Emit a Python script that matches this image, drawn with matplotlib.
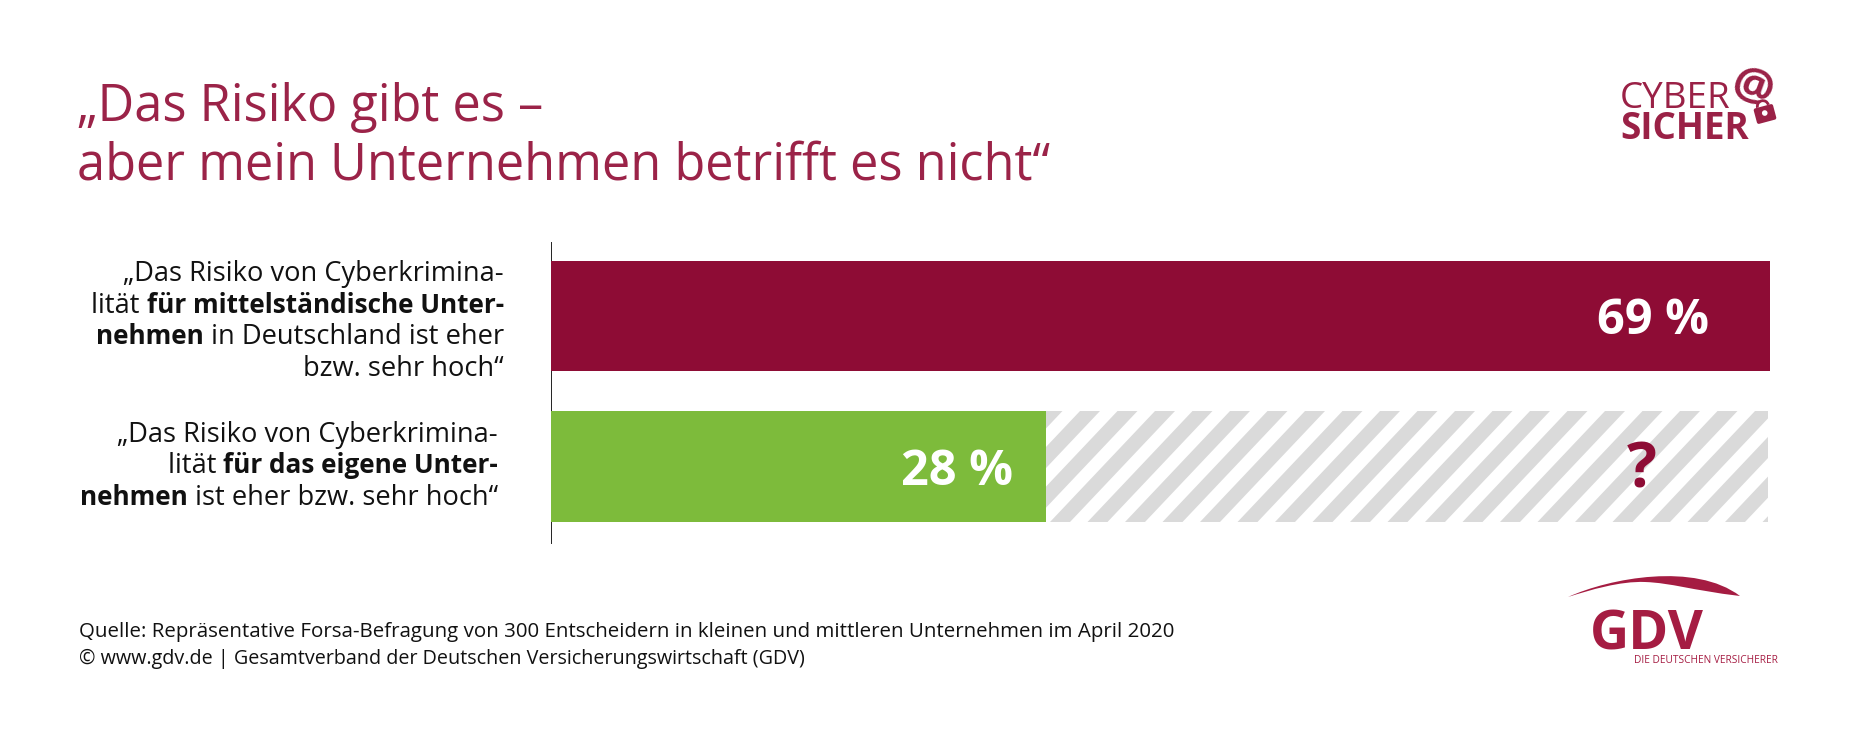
import matplotlib
matplotlib.use("Agg")
import matplotlib.pyplot as plt
from matplotlib.path import Path
from matplotlib.patches import PathPatch, FancyBboxPatch, Wedge
from matplotlib.transforms import Affine2D

W, H, DPI = 1850, 742, 100
FONT = "Open Sans"
plt.rcParams["font.family"] = [FONT, "DejaVu Sans"]

title_lines = ["„Das Risiko gibt es –", "aber mein Unternehmen betrifft es nicht“"]
categories = ["mittelstaendisch", "eigenes Unternehmen"]
known_values = [69, 28]
unknown_values = [0, 41]
value_labels = ["69 %", "28 %"]
unknown_label = "?"
label_lines = [
    [[("„Das Risiko von Cyberkrimina-", False)],
     [("lität ", False), ("für mittelständische Unter-", True)],
     [("nehmen", True), (" in Deutschland ist eher", False)],
     [("bzw. sehr hoch“", False)]],
    [[("„Das Risiko von Cyberkrimina-", False)],
     [("lität ", False), ("für das eigene Unter-", True)],
     [("nehmen", True), (" ist eher bzw. sehr hoch“", False)]],
]
source_lines = [
    "Quelle: Repräsentative Forsa-Befragung von 300 Entscheidern in kleinen und mittleren Unternehmen im April 2020",
    "© www.gdv.de | Gesamtverband der Deutschen Versicherungswirtschaft (GDV)",
]

RED = "#8E0C35"
TITLE_RED = "#9B2348"
LOGO_RED = "#9A2146"
GDV_RED = "#A51C42"
GREEN = "#7DBB3B"
GREY = "#DADADA"
INK = "#111111"

fig = plt.figure(figsize=(W / DPI, H / DPI), dpi=DPI, facecolor="white")
PX = Affine2D().scale(1, -1).translate(0, H)  # reference pixel coordinates


def txt(x, y, s, size, color=INK, weight="normal", ha="left", **kw):
    return fig.text(x, y, s, transform=PX, fontsize=size, color=color,
                    fontweight=weight, ha=ha, va="baseline", **kw)


# ---------- main chart ----------
ax = fig.add_axes([551 / W, 1 - 543 / H, 1219 / W, 301 / H])
ax.set_xlim(0, 69)
ax.set_ylim(1.508, -0.49)
ypos = list(range(len(categories)))
ax.barh(ypos, known_values, height=0.734, color=[RED, GREEN], zorder=3)
ghost = ax.barh(ypos[1], unknown_values[1] - 0.12, left=known_values[1], height=0.734,
                color="none", zorder=2)[0]
for s in ("top", "right", "bottom"):
    ax.spines[s].set_visible(False)
ax.spines["left"].set_color("#222222")
ax.spines["left"].set_linewidth(0.7)
ax.set_xticks([])
ax.set_yticks([])
ax.patch.set_alpha(0)

# diagonal stripes clipped to the unknown share
period, stripe_w, lean = 37.5, 20, 105
for k in range(-4, 21):
    x0 = 1050 + k * period
    p = PathPatch(Path([(x0, 522), (x0 + stripe_w, 522),
                        (x0 + stripe_w + lean, 411), (x0 + lean, 411), (x0, 522)]),
                  transform=PX, facecolor=GREY, edgecolor="none", zorder=2)
    ax.add_patch(p)
    p.set_clip_path(ghost)

# value labels
txt(1709, 334, value_labels[0], 35, "white", "bold", ha="right")
txt(1013, 485, value_labels[1], 35, "white", "bold", ha="right")
txt(1642, 488, unknown_label, 45, RED, "bold", ha="center")

# ---------- texts ----------
txt(77, 121, title_lines[0], 36.4, TITLE_RED)
txt(77, 180, title_lines[1], 36.4, TITLE_RED)
txt(79, 637, source_lines[0], 14.72, "#111111")
txt(79, 664, source_lines[1], 14.2, "#111111")

renderer = fig.canvas.get_renderer()
SIZE_REG, SIZE_BOLD = 19.6, 18.8


def right_runs(runs, xr, y):
    x = xr
    for s, bold in reversed(runs):
        size = SIZE_BOLD if bold else SIZE_REG
        weight = "bold" if bold else "normal"
        txt(x, y, s, size, INK, weight, ha="right")
        probe = fig.text(0, 0, s + "|", fontsize=size, fontweight=weight)
        bar = fig.text(0, 0, "|", fontsize=size, fontweight=weight)
        w = probe.get_window_extent(renderer).width - bar.get_window_extent(renderer).width
        probe.remove()
        bar.remove()
        x -= w


for lines, xr, ys in zip(label_lines, (504, 498), ([281, 313, 344, 376], [442, 473, 505])):
    for runs, y in zip(lines, ys):
        right_runs(runs, xr, y)

# ---------- CYBER SICHER logo ----------
txt(1620, 108, "CYBER", 26.5, LOGO_RED)
txt(1620, 139, "SICHER", 26.5, LOGO_RED, "bold")
txt(1748, 101, "@", 33, LOGO_RED, "bold", ha="center", rotation=-20,
    rotation_mode="anchor")
lock_tf = Affine2D().rotate_deg(-15).translate(1765, 114) + PX
fig.add_artist(FancyBboxPatch((-10, -8), 20, 16, boxstyle="round,pad=0,rounding_size=2",
                              transform=lock_tf, facecolor=LOGO_RED, edgecolor="none"))
fig.add_artist(Wedge((0, -8), 7, 180, 360, width=2.8, transform=lock_tf,
                     facecolor=LOGO_RED, edgecolor="none"))
fig.add_artist(Wedge((0, -1), 2.8, 0, 360, transform=lock_tf,
                     facecolor="white", edgecolor="none"))

# ---------- GDV logo ----------
arc = Path([(1568, 597), (1610, 578), (1695, 562), (1740, 596),
            (1690, 590), (1672, 583), (1645, 582),
            (1620, 581), (1590, 590), (1568, 597)],
           [Path.MOVETO] + [Path.CURVE4] * 9)
fig.add_artist(PathPatch(arc, transform=PX, facecolor=GDV_RED, edgecolor="none"))
txt(1590, 649, "GDV", 39, GDV_RED, "bold")
txt(1634, 663, "DIE DEUTSCHEN VERSICHERER", 7.3, GDV_RED)

fig.savefig("out.png", dpi=DPI, facecolor="white")
